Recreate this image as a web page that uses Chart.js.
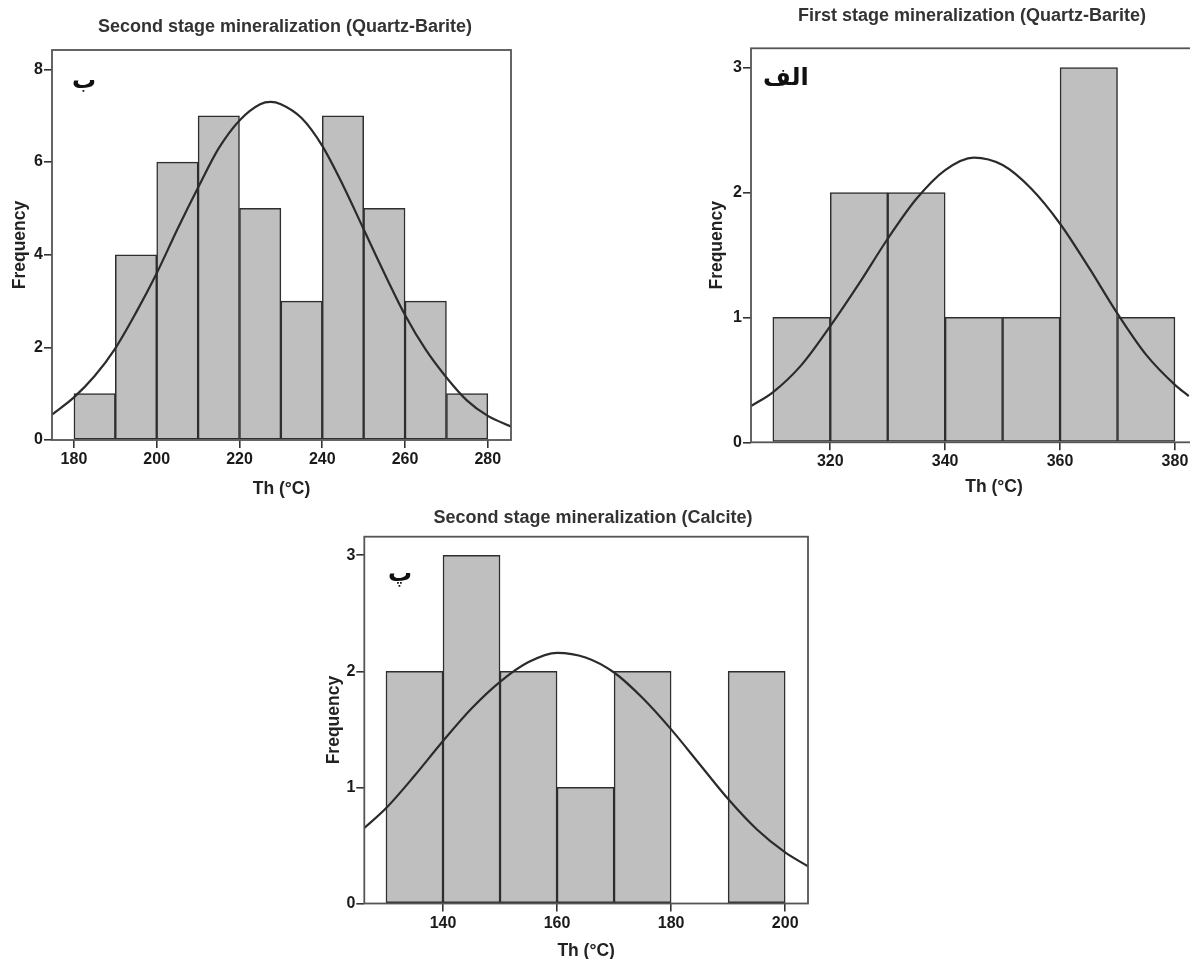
<!DOCTYPE html>
<html>
<head>
<meta charset="utf-8">
<title>Th histograms</title>
<script src="https://cdn.jsdelivr.net/npm/chart.js@4.4.1/dist/chart.umd.min.js"></script>
<style>
  html, body { margin: 0; padding: 0; background: #fff; width: 1190px; height: 959px; overflow: hidden; }
  canvas { position: absolute; }
</style>
</head>
<body>
<canvas id="chartB" width="570" height="500" style="left:0px;top:0px"></canvas>
<canvas id="chartAlef" width="530" height="498" style="left:707px;top:0px"></canvas>
<canvas id="chartPe" width="542" height="473" style="left:322px;top:490px"></canvas>
<script>
// --- panel ب : second stage, quartz-barite ---
const bBinCenters = [185, 195, 205, 215, 225, 235, 245, 255, 265, 275];
const bCounts = [1, 4, 6, 7, 5, 3, 7, 5, 3, 1];
const bCurveX = [174.7, 180, 185, 190, 195, 200, 205, 210, 215, 220, 225, 227.5, 230, 235, 240, 245, 250, 255, 260, 265, 270, 275, 280, 285.6];
const bCurveY = [0.55, 0.92, 1.38, 1.98, 2.75, 3.6, 4.55, 5.45, 6.3, 6.9, 7.25, 7.3, 7.25, 6.95, 6.35, 5.5, 4.55, 3.6, 2.7, 1.95, 1.35, 0.85, 0.52, 0.29];
const bXTicks = [180, 200, 220, 240, 260, 280];
const bYTicks = [0, 2, 4, 6, 8];

// --- panel الف : first stage, quartz-barite ---
const alefBinCenters = [315, 325, 335, 345, 355, 365, 375];
const alefCounts = [1, 2, 2, 1, 1, 3, 1];
const alefCurveX = [306.2, 310, 315, 320, 325, 330, 335, 340, 345, 350, 355, 360, 365, 370, 375, 380, 382.4];
const alefCurveY = [0.29, 0.4, 0.62, 0.93, 1.27, 1.63, 1.95, 2.18, 2.28, 2.22, 2.03, 1.75, 1.4, 1.03, 0.7, 0.46, 0.37];
const alefXTicks = [320, 340, 360, 380];
const alefYTicks = [0, 1, 2, 3];

// --- panel پ : second stage, calcite ---
const peBinCenters = [135, 145, 155, 165, 175, 185, 195];
const peCounts = [2, 3, 2, 1, 2, 0, 2];
const peCurveX = [126.2, 130, 135, 140, 145, 150, 155, 160, 165, 170, 175, 180, 185, 190, 195, 200, 204];
const peCurveY = [0.65, 0.82, 1.1, 1.4, 1.68, 1.91, 2.08, 2.16, 2.12, 1.99, 1.77, 1.5, 1.2, 0.9, 0.64, 0.44, 0.32];
const peXTicks = [140, 160, 180, 200];
const peYTicks = [0, 1, 2, 3];

const xTitle = 'Th (°C)';
const yTitle = 'Frequency';

Chart.defaults.font.family = '"Liberation Sans", Arial, sans-serif';
Chart.defaults.font.weight = 'bold';

function framePlugin() {
  return {
    id: 'frame',
    afterDatasetsDraw(chart) {
      const { left, top, right, bottom } = chart.chartArea;
      const ctx = chart.ctx;
      ctx.save();
      ctx.strokeStyle = '#555';
      ctx.lineWidth = 1.8;
      ctx.strokeRect(left, top, right - left, bottom - top);
      ctx.restore();
    }
  };
}

function markPlugin(mark) {
  return {
    id: 'panelMark',
    afterDraw(chart) {
      const ctx = chart.ctx;
      ctx.save();
      ctx.fillStyle = '#111';
      ctx.font = 'bold 24px "DejaVu Sans", "Noto Sans", sans-serif';
      ctx.textAlign = 'left';
      ctx.textBaseline = 'alphabetic';
      ctx.fillText(mark.text, mark.x, mark.y);
      ctx.restore();
    }
  };
}

function buildPanel(canvasId, spec) {
  const ctx = document.getElementById(canvasId);
  return new Chart(ctx, {
    type: 'bar',
    data: {
      datasets: [
        {
          type: 'line',
          data: spec.curveX.map((x, i) => ({ x, y: spec.curveY[i] })),
          borderColor: '#2b2b2b',
          borderWidth: 2.2,
          pointRadius: 0,
          fill: false,
          cubicInterpolationMode: 'monotone',
          order: 0
        },
        {
          type: 'bar',
          data: spec.centers.map((x, i) => ({ x, y: spec.counts[i] })),
          backgroundColor: '#bfbfbf',
          borderColor: '#2e2e2e',
          borderWidth: 1.5,
          borderSkipped: false,
          categoryPercentage: 1,
          barPercentage: 1,
          order: 1
        }
      ]
    },
    options: {
      responsive: false,
      animation: false,
      events: [],
      layout: { padding: 0 },
      plugins: {
        legend: { display: false },
        tooltip: { enabled: false },
        title: {
          display: true,
          text: spec.title,
          color: '#333',
          font: { size: 18, weight: 'bold' },
          padding: { top: spec.titleTop, bottom: spec.titleBottom }
        }
      },
      scales: {
        x: {
          type: 'linear',
          min: spec.xMin,
          max: spec.xMax,
          offset: false,
          grid: { offset: false, drawOnChartArea: false, drawTicks: true, tickLength: 8, color: '#333', lineWidth: 1.6 },
          border: { display: false },
          ticks: { color: '#1a1a1a', font: { size: 16, weight: 'bold' }, padding: spec.xTickPad, maxRotation: 0, autoSkip: false },
          title: { display: true, text: xTitle, color: '#222', font: { size: 17.5, weight: 'bold' }, padding: { top: 0, bottom: spec.xTitlePad } },
          afterBuildTicks: (scale) => { scale.ticks = spec.xTicks.map((v) => ({ value: v })); },
          afterFit: (scale) => { scale.height = spec.xAxisH; }
        },
        y: {
          type: 'linear',
          position: 'left',
          min: 0,
          max: spec.yMax,
          grid: { drawOnChartArea: false, drawTicks: true, tickLength: 8, color: '#333', lineWidth: 1.6 },
          border: { display: false },
          ticks: { color: '#1a1a1a', font: { size: 16, weight: 'bold' }, padding: 1 },
          title: { display: true, text: yTitle, color: '#222', font: { size: 17.5, weight: 'bold' }, padding: { top: spec.yTitlePad, bottom: 0 } },
          afterBuildTicks: (scale) => { scale.ticks = spec.yTicks.map((v) => ({ value: v })); },
          afterFit: (scale) => { scale.width = spec.yAxisW; }
        },
        y2: {
          type: 'linear',
          position: 'right',
          display: spec.rightW > 0,
          grid: { display: false },
          border: { display: false },
          ticks: { display: false },
          afterFit: (scale) => { scale.width = spec.rightW; }
        }
      }
    },
    plugins: [framePlugin(), markPlugin(spec.mark)]
  });
}

buildPanel('chartB', {
  title: 'Second stage mineralization (Quartz-Barite)',
  centers: bBinCenters, counts: bCounts, curveX: bCurveX, curveY: bCurveY,
  xTicks: bXTicks, yTicks: bYTicks,
  xMin: 174.7, xMax: 285.6, yMax: 8.42,
  titleTop: 16, titleBottom: 12.4,
  xAxisH: 60, xTickPad: 2.4, xTitlePad: 0.5,
  yAxisW: 52, yTitlePad: 9.5, rightW: 59,
  mark: { text: 'ب', x: 72, y: 88 }
});

buildPanel('chartAlef', {
  title: 'First stage mineralization (Quartz-Barite)',
  centers: alefBinCenters, counts: alefCounts, curveX: alefCurveX, curveY: alefCurveY,
  xTicks: alefXTicks, yTicks: alefYTicks,
  xMin: 306.2, xMax: 390.8, yMax: 3.155,
  titleTop: 5.2, titleBottom: 21.5,
  xAxisH: 55.7, xTickPad: 2.1, xTitlePad: 0.5,
  yAxisW: 44, yTitlePad: 0, rightW: 0,
  mark: { text: 'الف', x: 56, y: 85 }
});

buildPanel('chartPe', {
  title: 'Second stage mineralization (Calcite)',
  centers: peBinCenters, counts: peCounts, curveX: peCurveX, curveY: peCurveY,
  xTicks: peXTicks, yTicks: peYTicks,
  xMin: 126.2, xMax: 204.0, yMax: 3.16,
  titleTop: 17.2, titleBottom: 7.9,
  xAxisH: 59.5, xTickPad: 2.4, xTitlePad: 1,
  yAxisW: 42.3, yTitlePad: 1.5, rightW: 56,
  mark: { text: 'پ', x: 66, y: 91 }
});
</script>
</body>
</html>
